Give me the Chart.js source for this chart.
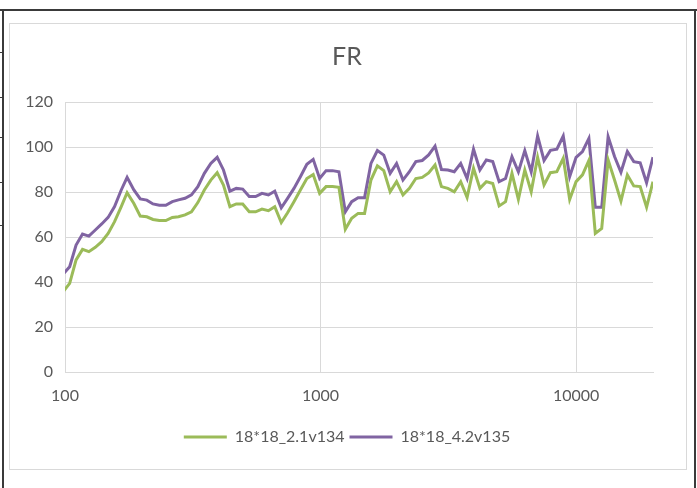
<!DOCTYPE html>
<html>
<head>
<meta charset="utf-8">
<script src="https://cdn.jsdelivr.net/npm/chart.js@4/dist/chart.umd.min.js"></script>
<style>
  html, body { margin: 0; padding: 0; background: #fff; }
  body { width: 697px; height: 488px; position: relative; overflow: hidden; }
  .cell-top { position: absolute; left: 0; top: 9px; width: 697px; height: 2px; background: #3a3a3a; }
  .cell-left { position: absolute; left: 2px; top: 9px; width: 2px; height: 479px; background: #3a3a3a; }
  .cell-right { position: absolute; left: 694px; top: 9px; width: 2px; height: 479px; background: #3a3a3a; }
  .row-mark { position: absolute; left: 0; width: 3px; height: 1px; background: #3a3a3a; }
  .frame { position: absolute; left: 9px; top: 23px; width: 678px; height: 447px; box-sizing: border-box; border: 1px solid #d9d9d9; }
  #myChart { position: absolute; left: 9px; top: 23px; }
</style>
</head>
<body>
<div class="cell-top"></div>
<div class="cell-left"></div>
<div class="cell-right"></div>
<div class="row-mark" style="top:52px"></div>
<div class="row-mark" style="top:97px"></div>
<div class="row-mark" style="top:137px"></div>
<div class="row-mark" style="top:182px"></div>
<div class="row-mark" style="top:225px"></div>
<div class="frame"></div>
<canvas id="myChart" width="676" height="447"></canvas>
<script>
// data: frequencies (Hz), 1/12 octave steps counted down from 20 kHz
var freqs = [98.4, 104.3, 110.5, 117.1, 124.0, 131.4, 139.2, 147.5, 156.3, 166, 175, 186,
    197, 209, 221, 234, 248, 263, 278, 295, 312.5, 331, 351, 372,
    394, 417, 442, 468, 496, 526, 557, 590, 625, 662, 702, 743,
    787, 834, 884, 936, 992, 1051, 1114, 1180, 1250, 1324, 1403, 1487,
    1575, 1669, 1768, 1873, 1984, 2102, 2227, 2360, 2500, 2649, 2806, 2973,
    3150, 3337, 3536, 3746, 3969, 4204, 4454, 4719, 5000, 5297, 5612, 5946,
    6300, 6674, 7071, 7492, 7937, 8409, 8909, 9439, 10000, 10595, 11225, 11892,
    12599, 13348, 14142, 14983, 15874, 16818, 17818, 18877, 20000];

var seriesNames = ["18*18_2.1v134", "18*18_4.2v135"];

var greenVals = [35.7, 39.4, 49.8, 54.5, 53.5, 55.4, 57.9, 61.6, 66.8, 73.5, 79.7, 74.9,
    69.3, 69.0, 67.8, 67.3, 67.3, 68.7, 69.0, 69.8, 71.2, 75.3, 80.9, 85.3,
    88.6, 83.1, 73.5, 74.7, 74.7, 71.2, 71.2, 72.4, 71.7, 73.5, 66.4, 70.8,
    75.7, 80.9, 86.0, 87.8, 79.4, 82.4, 82.4, 82.1, 63.4, 68.3, 70.5, 70.5,
    85.3, 91.6, 89.5, 80.1, 84.6, 78.7, 81.6, 86.0, 86.5, 88.5, 92.0, 82.4,
    81.6, 80.1, 84.6, 77.6, 90.5, 81.6, 84.6, 83.8, 73.8, 75.7, 88.3, 76.7,
    89.8, 80.1, 95.4, 83.1, 88.6, 89.0, 95.0, 76.7, 84.6, 87.6, 94.0, 61.6,
    63.8, 94.2, 85.3, 76.0, 87.6, 82.7, 82.4, 73.2, 84.6];

var purpleVals = [43.5, 46.8, 56.4, 61.3, 60.4, 63.1, 65.8, 68.7, 73.5, 80.9, 86.5, 80.9,
    76.9, 76.4, 74.7, 74.1, 74.1, 75.7, 76.5, 77.2, 78.7, 82.4, 88.3, 92.7,
    95.4, 89.8, 80.4, 81.6, 81.3, 78.0, 78.0, 79.4, 78.7, 80.4, 73.0, 77.2,
    81.6, 86.8, 92.3, 94.5, 86.0, 89.5, 89.5, 89.0, 71.2, 75.7, 77.5, 77.5,
    92.7, 98.4, 96.4, 88.3, 92.7, 85.3, 89.0, 93.5, 94.0, 96.5, 100.4, 90.0,
    89.8, 89.0, 92.7, 86.0, 99.0, 89.8, 94.2, 93.5, 84.6, 86.0, 95.7, 89.0,
    98.4, 89.0, 104.9, 94.0, 98.5, 99.0, 104.9, 86.8, 95.4, 98.0, 103.8, 73.2,
    73.2, 104.6, 95.8, 88.8, 98.0, 93.5, 93.0, 84.1, 95.5];

var freqTicks = [100, 1000, 10000];

// helper: pair frequencies with values for a scatter line
var toPoints = function(vals) {
    return vals.map(function(v, i) { return { x: freqs[i], y: v }; });
};

var textColor = "#595959";
var gridColor = "#d9d9d9";

var ctx = document.getElementById("myChart").getContext("2d");

var frChart = new Chart(ctx, {
    type: "scatter",
    data: {
        datasets: [{
            label: seriesNames[0],
            data: toPoints(greenVals),
            showLine: true,
            borderColor: "#9bbb59",
            backgroundColor: "#9bbb59",
            borderWidth: 3,
            pointRadius: 0,
            tension: 0
        }, {
            label: seriesNames[1],
            data: toPoints(purpleVals),
            showLine: true,
            borderColor: "#8064a2",
            backgroundColor: "#8064a2",
            borderWidth: 3,
            pointRadius: 0,
            tension: 0
        }]
    },
    options: {
        responsive: false,
        animation: false,
        devicePixelRatio: 1,
        layout: {
            padding: { left: 0, right: 0, top: 0, bottom: 15 }
        },
        scales: {
            x: {
                type: "logarithmic",
                min: 100,
                max: 20000,
                afterBuildTicks: function(s) {
                    s.ticks = freqTicks.map(function(v) { return { value: v }; });
                },
                afterFit: function(s) { s.height = 52; },
                grid: { color: gridColor, drawTicks: false },
                border: { color: gridColor },
                ticks: {
                    color: textColor,
                    padding: 14,
                    maxRotation: 0,
                    font: { family: "Lato", size: 16 },
                    callback: function(v) { return String(v); }
                }
            },
            y: {
                min: 0,
                max: 120,
                afterFit: function(s) { s.width = 56; },
                grid: { color: gridColor, drawTicks: false },
                border: { display: false },
                ticks: {
                    stepSize: 20,
                    color: textColor,
                    padding: 12,
                    font: { family: "Lato", size: 16 }
                }
            },
            // empty right-hand axis, only keeps the plot clear of the frame's right side
            yRight: {
                position: "right",
                min: 0,
                max: 120,
                afterFit: function(s) { s.width = 32; },
                grid: { display: false },
                border: { display: false },
                ticks: { display: false }
            }
        },
        plugins: {
            title: {
                display: true,
                text: "FR",
                color: textColor,
                font: { family: "Lato", size: 25, weight: "normal" },
                padding: { top: 19, bottom: 30 }
            },
            legend: {
                position: "bottom",
                labels: {
                    usePointStyle: true,
                    pointStyle: "line",
                    pointStyleWidth: 43,
                    padding: 5,
                    color: textColor,
                    font: { family: "Lato", size: 16 }
                }
            },
            tooltip: { enabled: false }
        }
    }
});
</script>
</body>
</html>
